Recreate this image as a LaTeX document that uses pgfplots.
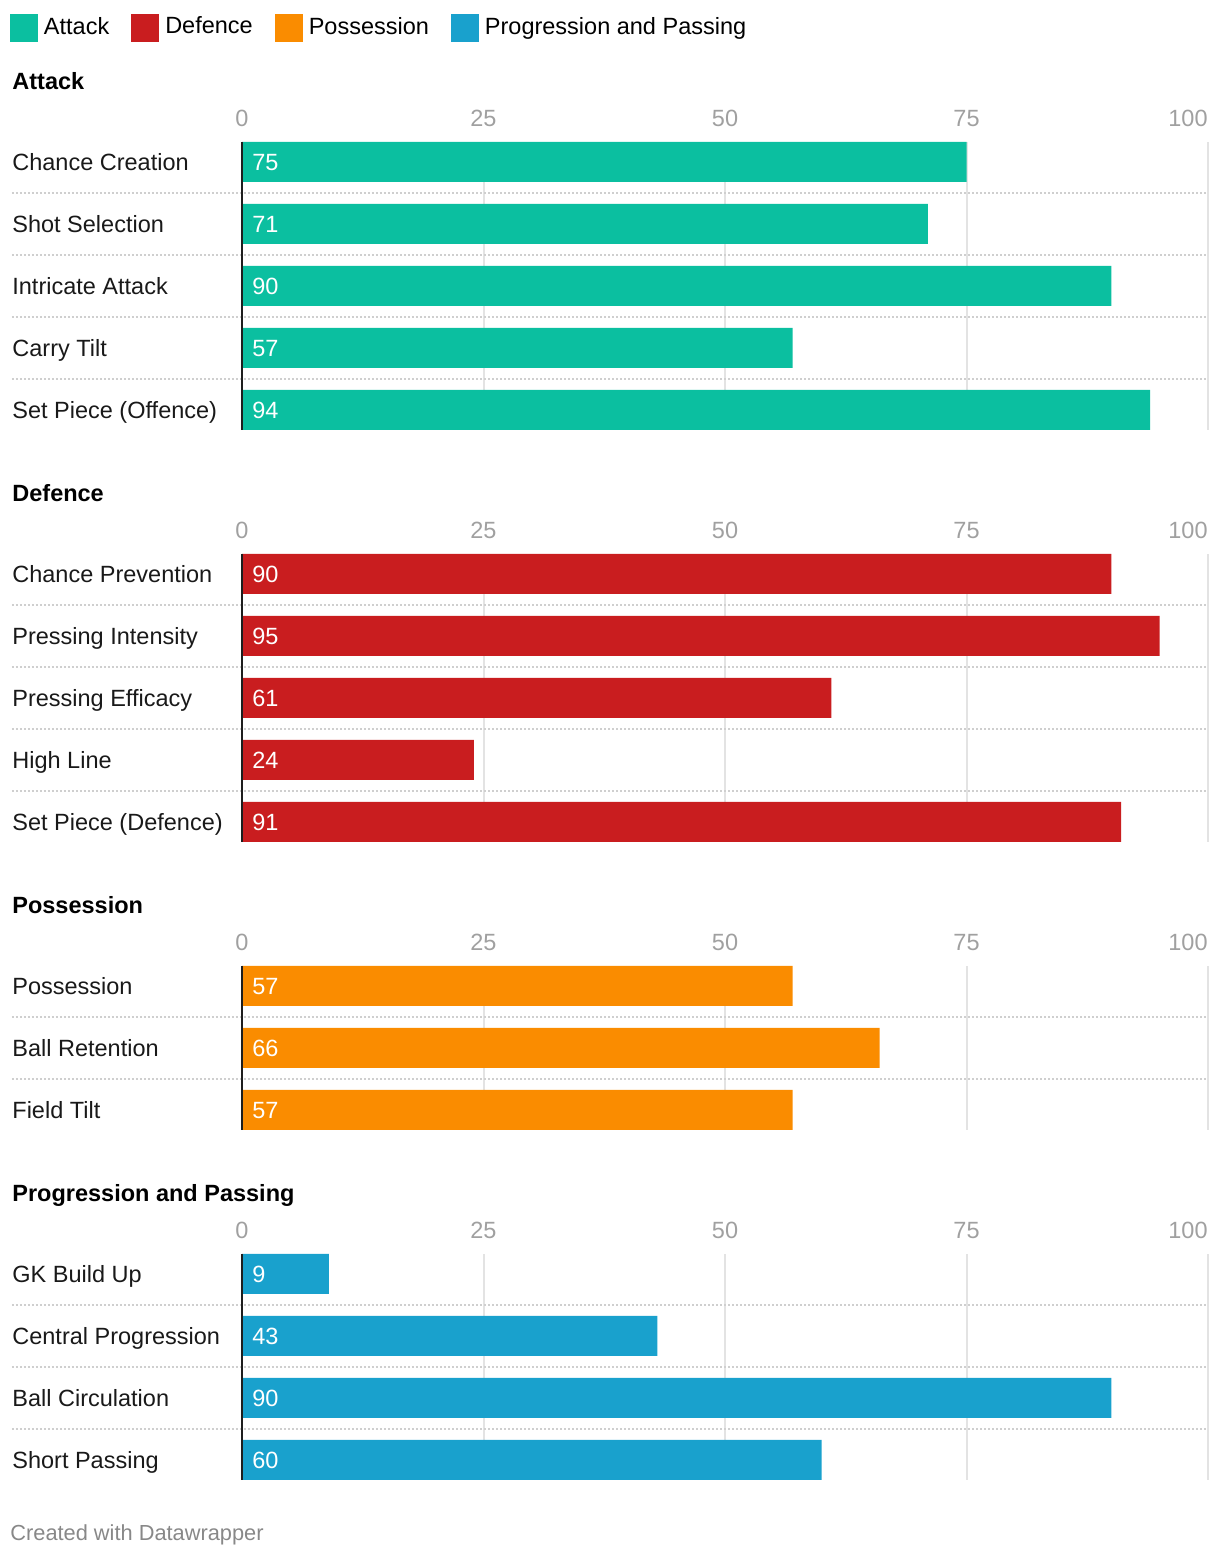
\documentclass[border=0pt]{standalone}
\usepackage{fontspec}
\setmainfont{Liberation Sans}
\usepackage{pgfplots}
\usepackage{pgfplotstable}
\pgfplotsset{compat=1.18}

\definecolor{attackc}{HTML}{0BBFA0}
\definecolor{defencec}{HTML}{C91D1F}
\definecolor{possc}{HTML}{FA8C00}
\definecolor{progc}{HTML}{19A1CD}
\definecolor{tickgrey}{HTML}{A0A0A0}
\definecolor{gridgrey}{HTML}{E3E3E3}
\definecolor{sepgrey}{HTML}{CFCFCF}
\definecolor{footgrey}{HTML}{888888}
\definecolor{axisblack}{HTML}{1E1E1E}

\newcommand{\lbl}{\fontsize{11.75pt}{14pt}\selectfont}

% values per group
\pgfplotstableread{
idx val
0 75
1 71
2 90
3 57
4 94
}\attack
\pgfplotstableread{
idx val
0 90
1 95
2 61
3 24
4 91
}\defence
\pgfplotstableread{
idx val
0 57
1 66
2 57
}\possession
\pgfplotstableread{
idx val
0 9
1 43
2 90
3 60
}\progression

\tikzset{rowsep/.style={sepgrey, line width=1pt, dash pattern=on 1pt off 1pt}}

\pgfplotsset{
  teamgroup/.style={
    scale only axis, width=483pt, anchor=north west,
    xmin=0, xmax=100, y dir=reverse, ymin=-0.32258,
    xtick={0,25,50,75}, extra x ticks={100},
    extra x tick style={xticklabel style={anchor=base east}},
    xticklabel pos=upper,
    xmajorgrids, grid style={gridgrey, line width=1pt},
    major tick length=0pt,
    axis line style={draw=none},
    /pgf/number format/assume math mode=true,
    tick label style={font=\lbl},
    xticklabel style={text=tickgrey, anchor=base, yshift=7.5pt, inner sep=0pt},
    yticklabel style={anchor=base west, xshift=-115pt, yshift=-4.25pt, inner sep=0pt, text=black!90},
    clip=false,
  },
  valbar/.style={xbar, bar width=20pt, bar shift=0pt, draw=none, forget plot, fill=#1},
  vallbl/.style={draw=none, mark=none, forget plot, nodes near coords,
    point meta=explicit symbolic,
    nodes near coords style={text=white, font=\lbl, anchor=base west, inner sep=0pt, xshift=5pt, yshift=-4.25pt}},
}

\begin{document}
\begin{tikzpicture}
\path[use as bounding box] (0,0) rectangle (610pt,779pt);

% Attack
\begin{axis}[teamgroup, at={(121pt,708pt)}, height=144pt, ymax=4.32258,
  ytick={0,...,4},
  yticklabels={Chance Creation, Shot Selection, Intricate Attack, Carry Tilt, Set Piece (Offence)},
  legend style={at={(axis cs:-24.02,-2.387)}, anchor=north west, draw=none, fill=none,
    inner sep=0pt, outer sep=0pt, font=\lbl, nodes={inner sep=0pt},
    /tikz/every odd column/.append style={column sep=3pt},
    /tikz/every even column/.append style={column sep=11pt}},
  legend columns=4, legend cell align=left,
  legend image code/.code={\fill[#1] (0pt,-7.5pt) rectangle (14pt,6.5pt);},
]
\addplot[valbar=attackc] table[x=val, y=idx] {\attack};
\addplot[vallbl] table[x expr=0, y=idx, meta=val] {\attack};
\pgfplotsinvokeforeach{0.5,1.5,2.5,3.5}{\draw[rowsep] (axis cs:-23.81,#1) -- (axis cs:100,#1);}
\draw[axisblack, line width=1.2pt] (axis cs:0,-0.32258) -- (axis cs:0,4.32258);
\addlegendimage{fill=attackc, draw=none}\addlegendentry{Attack}
\addlegendimage{fill=defencec, draw=none}\addlegendentry{Defence}
\addlegendimage{fill=possc, draw=none}\addlegendentry{Possession}
\addlegendimage{fill=progc, draw=none}\addlegendentry{Progression and Passing}
\end{axis}

% Defence
\begin{axis}[teamgroup, at={(121pt,502pt)}, height=144pt, ymax=4.32258,
  ytick={0,...,4},
  yticklabels={Chance Prevention, Pressing Intensity, Pressing Efficacy, High Line, Set Piece (Defence)},
]
\addplot[valbar=defencec] table[x=val, y=idx] {\defence};
\addplot[vallbl] table[x expr=0, y=idx, meta=val] {\defence};
\pgfplotsinvokeforeach{0.5,1.5,2.5,3.5}{\draw[rowsep] (axis cs:-23.81,#1) -- (axis cs:100,#1);}
\draw[axisblack, line width=1.2pt] (axis cs:0,-0.32258) -- (axis cs:0,4.32258);
\end{axis}

% Possession
\begin{axis}[teamgroup, at={(121pt,296pt)}, height=82pt, ymax=2.32258,
  ytick={0,...,2},
  yticklabels={Possession, Ball Retention, Field Tilt},
]
\addplot[valbar=possc] table[x=val, y=idx] {\possession};
\addplot[vallbl] table[x expr=0, y=idx, meta=val] {\possession};
\pgfplotsinvokeforeach{0.5,1.5}{\draw[rowsep] (axis cs:-23.81,#1) -- (axis cs:100,#1);}
\draw[axisblack, line width=1.2pt] (axis cs:0,-0.32258) -- (axis cs:0,2.32258);
\end{axis}

% Progression and Passing
\begin{axis}[teamgroup, at={(121pt,152pt)}, height=113pt, ymax=3.32258,
  ytick={0,...,3},
  yticklabels={GK Build Up, Central Progression, Ball Circulation, Short Passing},
]
\addplot[valbar=progc] table[x=val, y=idx] {\progression};
\addplot[vallbl] table[x expr=0, y=idx, meta=val] {\progression};
\pgfplotsinvokeforeach{0.5,1.5,2.5}{\draw[rowsep] (axis cs:-23.81,#1) -- (axis cs:100,#1);}
\draw[axisblack, line width=1.2pt] (axis cs:0,-0.32258) -- (axis cs:0,3.32258);
\end{axis}

\node[anchor=base west, inner sep=0pt, font=\lbl\bfseries] at (6pt,734pt) {Attack};
\node[anchor=base west, inner sep=0pt, font=\lbl\bfseries] at (6pt,528pt) {Defence};
\node[anchor=base west, inner sep=0pt, font=\lbl\bfseries] at (6pt,322pt) {Possession};
\node[anchor=base west, inner sep=0pt, font=\lbl\bfseries] at (6pt,178pt) {Progression and Passing};
\node[anchor=base west, inner sep=0pt, text=footgrey, font=\fontsize{10.9pt}{13pt}\selectfont] at (5pt,9pt) {Created with Datawrapper};
\end{tikzpicture}
\end{document}
